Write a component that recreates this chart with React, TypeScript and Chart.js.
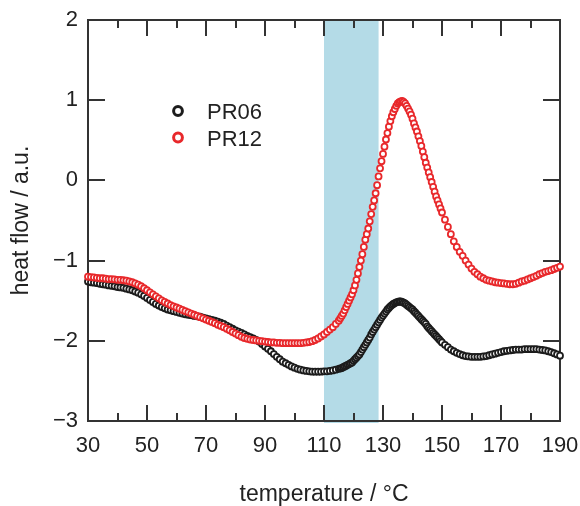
import React, { useEffect, useRef } from "react";
import { Chart, registerables } from "chart.js";

Chart.register(...registerables);

// temperature (°C) sampling points
const TEMPS = [
  30, 31, 32, 33, 34, 35, 36, 37, 38, 39,
  40, 41, 42, 43, 44, 45, 46, 47, 48, 49,
  50, 51, 52, 53, 54, 55, 56, 57, 58, 59,
  60, 61, 62, 63, 64, 65, 66, 67, 68, 69,
  70, 71, 72, 73, 74, 75, 76, 77, 78, 79,
  80, 81, 82, 83, 84, 85, 86, 87, 88, 89,
  90, 91, 92, 93, 94, 95, 96, 97, 98, 99,
  100, 101, 102, 103, 104, 105, 106, 107, 108, 109,
  110, 111, 112, 113, 114,
  115, 115.5, 116, 116.5, 117, 117.5, 118, 118.5, 119, 119.5,
  120, 120.5, 121, 121.5, 122, 122.5, 123, 123.5, 124, 124.5,
  125, 125.5, 126, 126.5, 127, 127.5, 128, 128.5, 129, 129.5,
  130, 130.5, 131, 131.5, 132, 132.5, 133, 133.5, 134, 134.5,
  135, 135.5, 136, 136.5, 137, 137.5, 138, 138.5, 139, 139.5,
  140, 140.5, 141, 141.5, 142, 142.5, 143, 143.5, 144, 144.5,
  145, 145.5, 146, 146.5, 147, 147.5, 148, 148.5, 149, 149.5,
  150,
  151, 152, 153, 154, 155, 156, 157, 158, 159, 160,
  161, 162, 163, 164, 165, 166, 167, 168, 169, 170,
  171, 172, 173, 174, 175, 176, 177, 178, 179, 180,
  181, 182, 183, 184, 185, 186, 187, 188, 189, 190,
];

// heat flow / a.u.
const PR06 = [
  -1.26, -1.27, -1.275, -1.28, -1.29, -1.295, -1.3, -1.31, -1.315, -1.32,
  -1.33, -1.335, -1.34, -1.35, -1.36, -1.37, -1.385, -1.4, -1.42, -1.44,
  -1.465, -1.49, -1.515, -1.54, -1.56, -1.58, -1.595, -1.61, -1.62, -1.63,
  -1.64, -1.65, -1.66, -1.67, -1.675, -1.68, -1.69, -1.695, -1.7, -1.71,
  -1.72, -1.73, -1.74, -1.75, -1.76, -1.775, -1.79, -1.81, -1.83, -1.85,
  -1.87, -1.885, -1.9, -1.92, -1.94, -1.955, -1.97, -1.99, -2.01, -2.04,
  -2.07, -2.1, -2.13, -2.165, -2.2, -2.23, -2.26, -2.28, -2.3, -2.32,
  -2.335, -2.35, -2.36, -2.37, -2.375, -2.38, -2.385, -2.385, -2.385, -2.385,
  -2.38, -2.38, -2.375, -2.37, -2.36,
  -2.35, -2.345, -2.34, -2.33, -2.32, -2.31, -2.3, -2.29, -2.28, -2.27,
  -2.25, -2.23, -2.21, -2.19, -2.17, -2.14, -2.11, -2.08, -2.05, -2.02,
  -1.99, -1.96, -1.92, -1.89, -1.86, -1.83, -1.8, -1.77, -1.74, -1.71,
  -1.685, -1.66, -1.635, -1.61, -1.59, -1.57, -1.555, -1.54, -1.53, -1.52,
  -1.515, -1.51, -1.51, -1.515, -1.525, -1.535, -1.55, -1.565, -1.58, -1.595,
  -1.61, -1.63, -1.65, -1.67, -1.69, -1.71, -1.73, -1.75, -1.77, -1.79,
  -1.82, -1.84, -1.86, -1.88, -1.9, -1.92, -1.94, -1.96, -1.98, -2.0,
  -2.02,
  -2.05, -2.08, -2.11, -2.13, -2.15, -2.165, -2.18, -2.19, -2.195, -2.2,
  -2.2, -2.2, -2.2, -2.195, -2.19, -2.18, -2.17, -2.16, -2.15, -2.14,
  -2.13, -2.125, -2.12, -2.115, -2.11, -2.11, -2.11, -2.105, -2.105, -2.105,
  -2.105, -2.105, -2.11, -2.115, -2.12, -2.13, -2.14, -2.155, -2.17, -2.185,
];

const PR12 = [
  -1.2, -1.205, -1.21, -1.215, -1.22, -1.22, -1.225, -1.23, -1.23, -1.235,
  -1.24, -1.24, -1.245, -1.25, -1.26, -1.27, -1.285, -1.3, -1.32, -1.345,
  -1.37, -1.395, -1.42, -1.445, -1.47, -1.495, -1.515, -1.535, -1.555, -1.57,
  -1.585, -1.6, -1.615, -1.63, -1.645, -1.66, -1.675, -1.69, -1.705, -1.72,
  -1.735, -1.75, -1.765, -1.78, -1.8, -1.815, -1.83, -1.85, -1.87, -1.89,
  -1.91, -1.93, -1.95, -1.965, -1.975, -1.985, -1.99, -1.995, -2.0, -2.005,
  -2.01, -2.015, -2.02, -2.02, -2.025, -2.025, -2.03, -2.03, -2.03, -2.03,
  -2.03, -2.03, -2.03, -2.025, -2.02, -2.015, -2.005, -1.99, -1.97, -1.945,
  -1.92, -1.89, -1.86, -1.83, -1.79,
  -1.75, -1.72, -1.69, -1.66, -1.62, -1.58, -1.54, -1.5, -1.46, -1.42,
  -1.37, -1.31, -1.24, -1.16, -1.08, -1.0, -0.92, -0.83, -0.74, -0.67,
  -0.6, -0.51, -0.42, -0.33, -0.25, -0.16, -0.06, 0.05, 0.15, 0.24,
  0.33, 0.42, 0.51, 0.59, 0.67, 0.74, 0.8, 0.85, 0.89, 0.93,
  0.96, 0.975, 0.985, 0.99, 0.98, 0.96, 0.93, 0.895, 0.86, 0.82,
  0.77, 0.71, 0.66, 0.61, 0.55, 0.49, 0.43, 0.36, 0.29, 0.22,
  0.16, 0.1, 0.04, -0.02, -0.08, -0.14, -0.2, -0.25, -0.3, -0.35,
  -0.4,
  -0.49, -0.58, -0.67, -0.76, -0.83, -0.89, -0.94, -1.0, -1.05, -1.1,
  -1.14, -1.17, -1.2, -1.22, -1.24, -1.25, -1.26, -1.27, -1.275, -1.28,
  -1.285, -1.29, -1.295, -1.295, -1.29, -1.275, -1.26, -1.25, -1.235, -1.22,
  -1.205, -1.19, -1.17, -1.155, -1.14, -1.13, -1.12, -1.105, -1.09, -1.075,
];

const SERIES_LABELS = ["PR06", "PR12"];
const SERIES_COLORS = ["#1c1c1c", "#e8282b"];
const BAND = [110, 128.5];
const X_RANGE = [30, 190];
const Y_RANGE = [-3, 2];

const FONT = '"Liberation Sans", Arial, Helvetica, sans-serif';
const TEXT = "#222222";
const AXIS = "#333333";

const decorPlugin = {
  id: "decor",
  beforeDatasetsDraw(chart: any) {
    const { ctx, chartArea: a, scales } = chart;
    const x = scales.x;
    const y = scales.y;
    ctx.save();
    // shaded band
    const bx0 = x.getPixelForValue(BAND[0]);
    const bx1 = x.getPixelForValue(BAND[1]);
    ctx.fillStyle = "#b4dbe7";
    ctx.fillRect(bx0, a.top + 1, bx1 - bx0, a.bottom - a.top + 1);
    // frame
    ctx.strokeStyle = AXIS;
    ctx.lineWidth = 2;
    ctx.strokeRect(a.left, a.top, a.right - a.left, a.bottom - a.top);
    // inward ticks
    const line = (x0: number, y0: number, x1: number, y1: number) => {
      ctx.beginPath();
      ctx.moveTo(x0, y0);
      ctx.lineTo(x1, y1);
      ctx.stroke();
    };
    x.ticks.forEach((t: any) => {
      const px = Math.round(x.getPixelForValue(t.value));
      const len = t.label ? 16 : 8;
      line(px, a.bottom, px, a.bottom - len);
      line(px, a.top, px, a.top + len);
    });
    y.ticks.forEach((t: any) => {
      const py = Math.round(y.getPixelForValue(t.value));
      line(a.left, py, a.left + 17, py);
      line(a.right, py, a.right - 17, py);
    });
    ctx.restore();
  },
  afterDatasetsDraw(chart: any) {
    const { ctx } = chart;
    ctx.save();
    const lx = 178;
    const ly = [111, 137.5];
    SERIES_LABELS.forEach((lab, i) => {
      ctx.beginPath();
      ctx.arc(lx, ly[i], 4.4, 0, Math.PI * 2);
      ctx.fillStyle = "#ffffff";
      ctx.fill();
      ctx.lineWidth = 3;
      ctx.strokeStyle = SERIES_COLORS[i];
      ctx.stroke();
      ctx.fillStyle = TEXT;
      ctx.font = `22px ${FONT}`;
      ctx.textAlign = "left";
      ctx.textBaseline = "middle";
      ctx.fillText(lab, 207, ly[i] + 2);
    });
    ctx.restore();
  },
};

export default function App() {
  const ref = useRef<HTMLCanvasElement | null>(null);

  useEffect(() => {
    document.body.style.margin = "0";
    const canvas = ref.current;
    if (!canvas) return;
    Chart.defaults.font.family = FONT;

    const mk = (vals: number[]) => TEMPS.map((t, i) => ({ x: t, y: vals[i] }));

    const chart = new Chart(canvas, {
      type: "scatter",
      data: {
        datasets: [
          {
            label: SERIES_LABELS[0],
            data: mk(PR06),
            borderColor: SERIES_COLORS[0],
            backgroundColor: "#ffffff",
            pointRadius: 3,
            pointBorderWidth: 1.8,
            showLine: false,
            clip: false as any,
            order: 2,
          },
          {
            label: SERIES_LABELS[1],
            data: mk(PR12),
            borderColor: SERIES_COLORS[1],
            backgroundColor: "#ffffff",
            pointRadius: 3,
            pointBorderWidth: 1.8,
            showLine: false,
            clip: false as any,
            order: 1,
          },
        ],
      },
      options: {
        responsive: false,
        animation: false,
        devicePixelRatio: 1,
        layout: { padding: { top: 20, right: 20, left: 0, bottom: 0 } },
        plugins: {
          legend: { display: false },
          tooltip: { enabled: false },
        },
        scales: {
          x: {
            type: "linear",
            position: "bottom",
            min: X_RANGE[0],
            max: X_RANGE[1],
            grid: { display: false, drawTicks: false },
            border: { display: false },
            ticks: {
              stepSize: 10,
              autoSkip: false,
              maxRotation: 0,
              padding: 12,
              color: TEXT,
              font: { size: 22, family: FONT },
              callback: (v: any) => ((Number(v) - X_RANGE[0]) % 20 === 0 ? String(v) : ""),
            },
            title: {
              display: true,
              text: "temperature / °C",
              color: TEXT,
              padding: 0,
              font: { size: 23, family: FONT, lineHeight: 1 },
            },
            afterFit: (s: any) => {
              s.height = 85;
              s.paddingLeft = 0;
              s.paddingRight = 0;
            },
          },
          y: {
            type: "linear",
            min: Y_RANGE[0],
            max: Y_RANGE[1],
            grid: { display: false, drawTicks: false },
            border: { display: false },
            ticks: {
              stepSize: 1,
              padding: 10,
              color: TEXT,
              font: { size: 22, family: FONT },
              callback: (v: any) => (Number(v) < 0 ? "\u2212" + Math.abs(Number(v)) : String(v)),
            },
            title: {
              display: true,
              text: "heat flow / a.u.",
              color: TEXT,
              padding: 10,
              font: { size: 23, family: FONT, lineHeight: 1 },
            },
            afterFit: (s: any) => {
              s.width = 88;
              s.paddingTop = 0;
              s.paddingBottom = 0;
            },
          },
        },
      },
      plugins: [decorPlugin],
    });

    return () => chart.destroy();
  }, []);

  return (
    <div style={{ width: 580, height: 506 }}>
      <canvas ref={ref} width={580} height={506} style={{ display: "block" }} />
    </div>
  );
}
